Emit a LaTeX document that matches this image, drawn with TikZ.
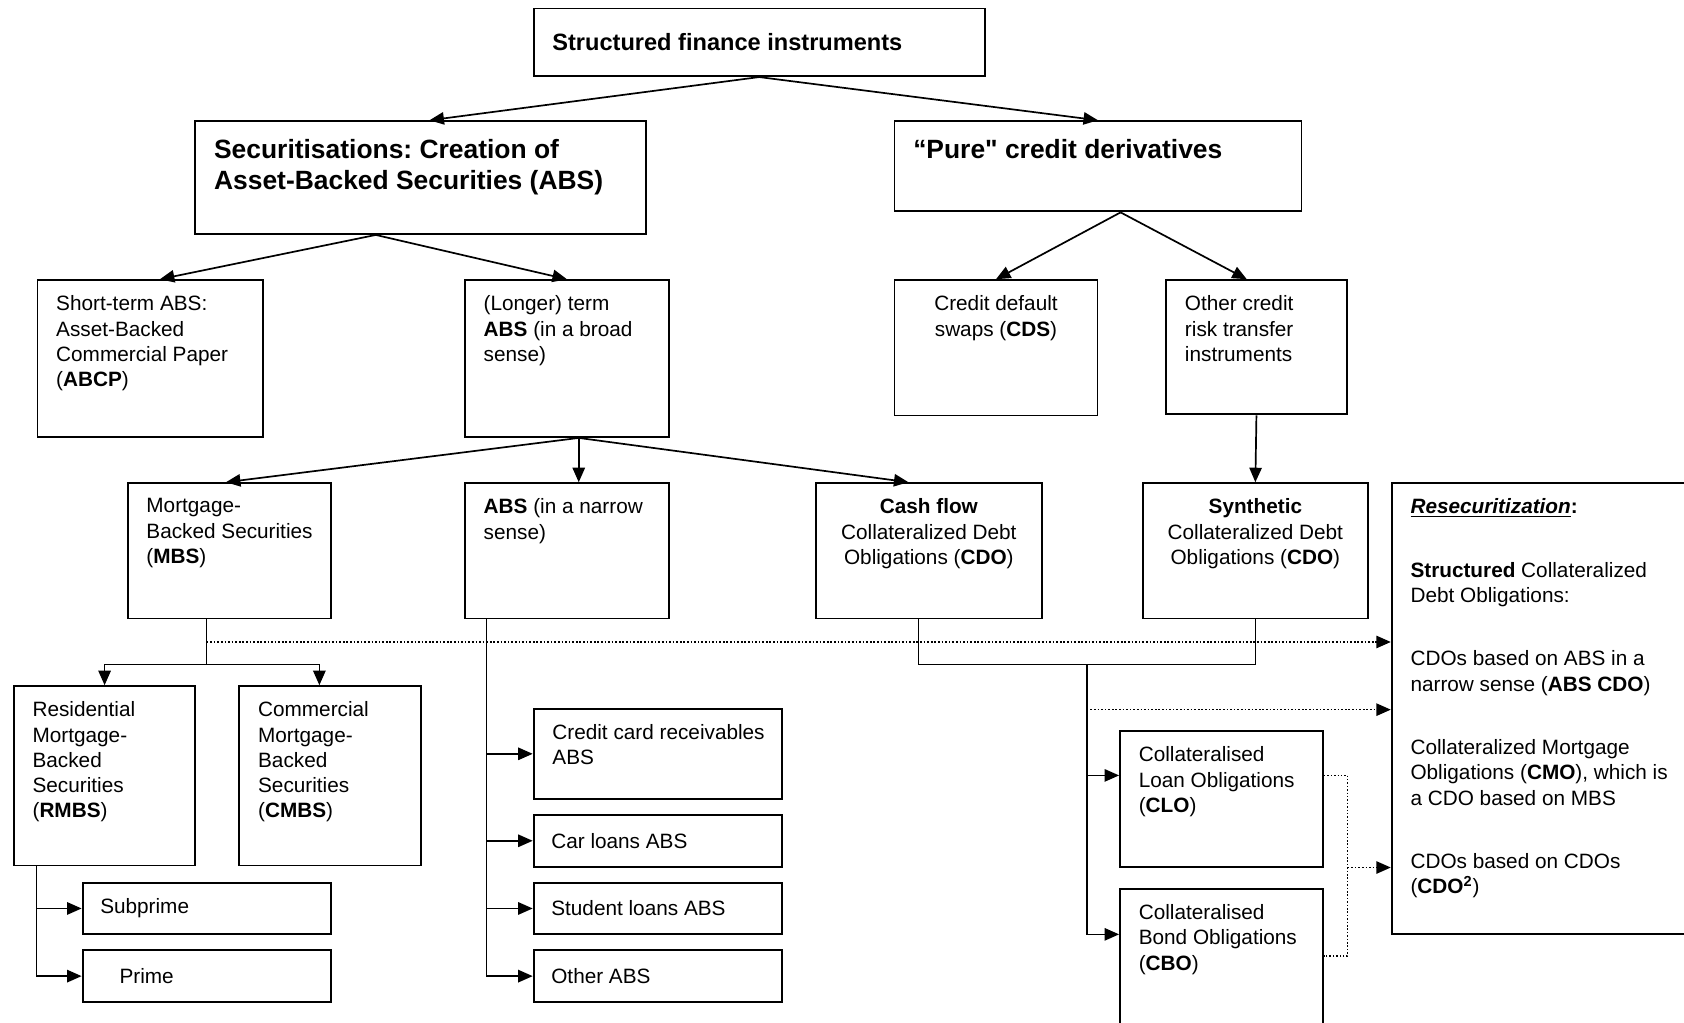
\documentclass[tikz,border=0pt]{standalone}
\usepackage{fontspec}
\setmainfont{Liberation Sans}
\usetikzlibrary{arrows.meta, calc, positioning}
\newcommand\boxfont{\fontsize{11pt}{13.4pt}\selectfont}
\newcommand\headfont{\bfseries\fontsize{14pt}{16.8pt}\selectfont}
\frenchspacing

\begin{document}
\begin{tikzpicture}[x=0.02cm, y=-0.02cm,
  box/.style 2 args={draw, line width=1pt, anchor=north west, inner sep=0pt, minimum width=#1*0.02cm, minimum height=#2*0.02cm},
  txt/.style={draw=none, align=left, inner sep=0pt, font=\boxfont},
  tl/.style={txt, anchor=north west, xshift=0.36cm, yshift=-0.3cm},
  hd/.style={txt, anchor=north west, font=\headfont, xshift=0.36cm, yshift=-0.34cm},
  mid/.style={txt, anchor=north, align=center, yshift=-0.3cm},
  one/.style={txt, anchor=west, xshift=0.34cm},
  arr/.style={-{Triangle[length=0.27cm, width=0.23cm]}, line width=0.9pt},
  dots/.style={densely dotted, line width=0.8pt}]
\clip (0,0) rectangle (1568,952);

% first levels
\node[box={420}{63}, label={[txt, anchor=west, font=\bfseries\fontsize{12.5pt}{15pt}\selectfont, xshift=0.36cm]west:{Structured finance instruments}}] (sfi) at (496,7) {};
\node[box={420}{105}, label={[hd]north west:{Securitisations: Creation of\\Asset-Backed Securities (ABS)}}] (sec) at (181,112) {};
\node[box={379}{84}, label={[hd]north west:{“Pure\textquotedbl{} credit derivatives}}] (pure) at (832,112) {};

\node[box={210}{146}, label={[tl]north west:{Short-term ABS:\\Asset-Backed\\Commercial Paper\\(\textbf{ABCP})}}] (abcp) at (34,260) {};
\node[box={190}{146}, label={[tl]north west:{(Longer) term\\\textbf{ABS} (in a broad\\sense)}}] (broad) at (432,260) {};
\node[box={189}{126}, label={[mid]north:{Credit default\\swaps (\textbf{CDS})}}] (cds) at (832,260) {};
\node[box={168}{125}, label={[tl]north west:{Other credit\\risk transfer\\instruments}}] (octi) at (1085,260) {};

\node[box={189}{126}, label={[tl]north west:{Mortgage-\\Backed Securities\\(\textbf{MBS})}}] (mbs) at (118,449) {};
\node[box={190}{126}, label={[tl]north west:{\textbf{ABS} (in a narrow\\sense)}}] (absn) at (432,449) {};
\node[box={210}{126}, label={[mid]north:{\textbf{Cash flow}\\Collateralized Debt\\Obligations (\textbf{CDO})}}] (cash) at (759,449) {};
\node[box={210}{126}, label={[mid]north:{\textbf{Synthetic}\\Collateralized Debt\\Obligations (\textbf{CDO})}}] (syn) at (1063,449) {};
\node[box={300}{420}, label={[tl]north west:{\underline{\textbf{\textit{Resecuritization}}}\textbf{:}\\[0.71cm]
  \textbf{Structured} Collateralized\\Debt Obligations:\\[0.71cm]
  CDOs based on ABS in a\\narrow sense (\textbf{ABS CDO})\\[0.71cm]
  Collateralized Mortgage\\Obligations (\textbf{CMO}), which is\\a CDO based on MBS\\[0.71cm]
  CDOs based on CDOs\\(\textbf{CDO\textsuperscript{2}})}}] (resec) at (1295,449) {};

% lower levels
\node[box={169}{167}, label={[tl]north west:{Residential\\Mortgage-\\Backed\\Securities\\(\textbf{RMBS})}}] (rmbs) at (12,638) {};
\node[box={169}{167}, label={[tl]north west:{Commercial\\Mortgage-\\Backed\\Securities\\(\textbf{CMBS})}}] (cmbs) at (222,638) {};
\node[box={231}{48}, label={[one]west:{Subprime}}] (sub) at (76,821) {};
\node[box={231}{48}, label={[txt, anchor=west, xshift=0.7cm]west:{Prime}}] (prime) at (76,884) {};

\node[box={231}{84}, label={[tl]north west:{Credit card receivables\\ABS}}] (ccr) at (496,659) {};
\node[box={231}{48}, label={[one]west:{Car loans ABS}}] (car) at (496,758) {};
\node[box={231}{48}, label={[one]west:{Student loans ABS}}] (stu) at (496,821) {};
\node[box={231}{48}, label={[one]west:{Other ABS}}] (oth) at (496,884) {};

\node[box={189}{126}, label={[tl]north west:{Collateralised\\Loan Obligations\\(\textbf{CLO})}}] (clo) at (1042,680) {};
\node[box={189}{150}, label={[tl]north west:{Collateralised\\Bond Obligations\\(\textbf{CBO})}}] (cbo) at (1042,827) {};

% arrows
\draw[arr] (sfi.south) -- ([shift={(8,0)}]sec.north);
\draw[arr] (sfi.south) -- (pure.north);
\draw[arr] ([shift={(-42,0)}]sec.south) -- ([shift={(9,0)}]abcp.north);
\draw[arr] ([shift={(-42,0)}]sec.south) -- (broad.north);
\draw[arr] ([shift={(21,0)}]pure.south) -- (cds.north);
\draw[arr] ([shift={(21,0)}]pure.south) -- ([shift={(-9,0)}]octi.north);
\draw[arr] (octi.south) -- (syn.north);

\coordinate (bst) at ([shift={(11,0)}]broad.south);
\draw[arr] (bst) -- ([shift={(-3,0)}]mbs.north);
\draw[arr] (bst) -- (bst |- absn.north);
\draw[arr] (bst) -- ([shift={(-19,0)}]cash.north);

\coordinate (mst) at ([shift={(-21,0)}]mbs.south);
\coordinate (mj) at ([shift={(0,42)}]mst);
\coordinate (md) at ([shift={(0,21)}]mst);
\draw (mst) -- (mj);
\draw[arr] (mj) -| (rmbs.north);
\draw[arr] (mj) -| ([shift={(-10,0)}]cmbs.north);
\draw[dots, arr] (md) -- (md -| resec.west);

\coordinate (ast) at ([shift={(21,0)}]absn.south west);
\draw[arr] (ast) |- (oth.west);
\draw[arr] (ast |- ccr.west) -- (ccr.west);
\draw[arr] (ast |- car.west) -- (car.west);
\draw[arr] (ast |- stu.west) -- (stu.west);

\coordinate (rst) at ([shift={(22,0)}]rmbs.south west);
\draw[arr] (rst) |- (prime.west);
\draw[arr] (rst |- sub.west) -- (sub.west);

\coordinate (cst) at ([shift={(-10,0)}]cash.south);
\draw (cst) -- ++(0,42) -| (syn.south);
\coordinate (cj) at ($(cst)!0.5!(syn.south) + (0,42)$);
\coordinate (cd) at ([shift={(0,42)}]cj);
\coordinate (cla) at ([shift={(0,42)}]clo.north west);
\coordinate (cba) at ([shift={(0,43)}]cbo.north west);
\draw[arr] (cj) |- (cba);
\draw[arr] (cj |- cla) -- (cla);
\draw[dots, arr] (cd) -- (cd -| resec.west);

\coordinate (cle) at ([shift={(0,42)}]clo.north east);
\coordinate (cbe) at ([shift={(0,63)}]cbo.north east);
\coordinate (cx) at ([shift={(22,0)}]cle);
\draw[dots] (cle) -- (cx) |- (cbe);
\draw[dots, arr] (cx |- clo.south) -- (clo.south -| resec.west);
\end{tikzpicture}
\end{document}
